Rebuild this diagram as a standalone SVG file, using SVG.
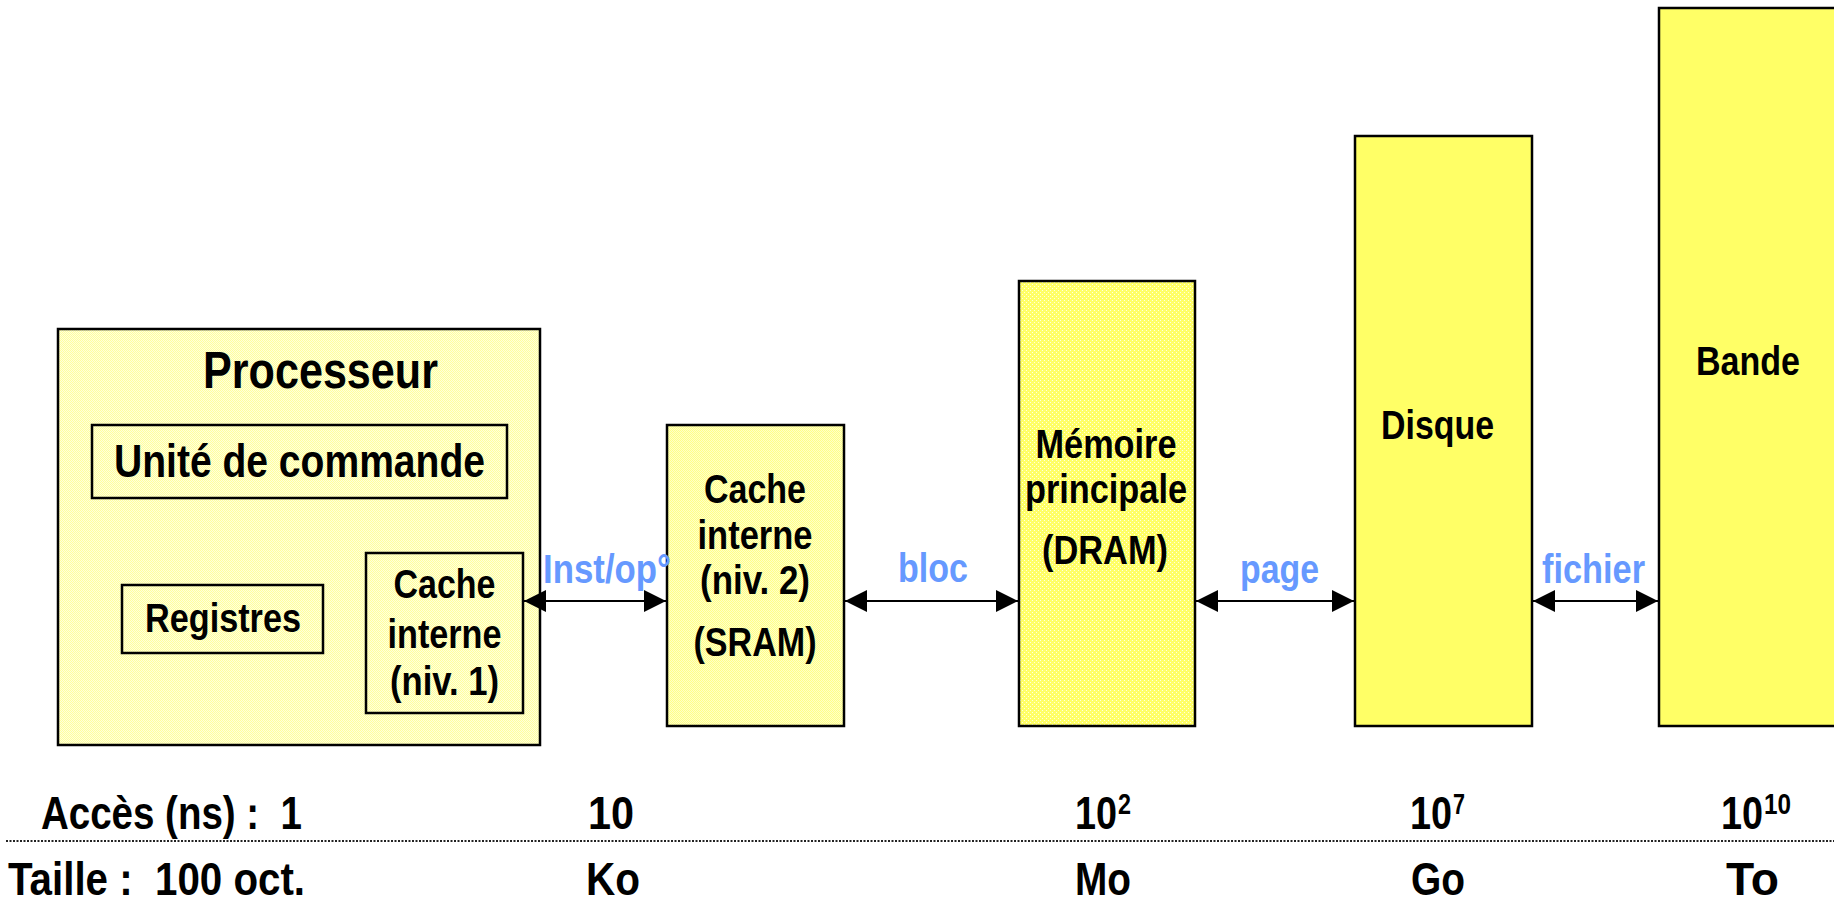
<svg xmlns="http://www.w3.org/2000/svg" width="1834" height="902" viewBox="0 0 1834 902">
<style>
.box{stroke:#000;stroke-width:2.5}
.t{font-family:"Liberation Sans Narrow","Arial Narrow","Liberation Sans",sans-serif;font-weight:bold;fill:#000;text-anchor:middle}
.l{font-family:"Liberation Sans Narrow","Arial Narrow","Liberation Sans",sans-serif;font-weight:bold;fill:#6699FF;text-anchor:middle;font-size:41px}
.s{font-family:"Liberation Sans Narrow","Arial Narrow","Liberation Sans",sans-serif;font-weight:bold;fill:#000;font-size:47px}
.f41{font-size:41px}
.conn{stroke:#000;stroke-width:2;fill:none;marker-start:url(#ah);marker-end:url(#ah)}
</style>
<defs>
<pattern id="pale" width="2" height="2" patternUnits="userSpaceOnUse">
<rect width="2" height="2" fill="#FFFFDC"/>
<rect width="1" height="1" fill="#FFFF9E"/>
<rect x="1" y="1" width="1" height="1" fill="#FFFF9E"/>
</pattern>
<pattern id="mid" width="2" height="2" patternUnits="userSpaceOnUse">
<rect width="2" height="2" fill="#FFFFC8"/>
<rect width="1" height="1" fill="#FFFF88"/>
<rect x="1" y="1" width="1" height="1" fill="#FFFF88"/>
</pattern>
<pattern id="dots" width="4" height="4" patternUnits="userSpaceOnUse">
<rect width="4" height="4" fill="#FFFF66"/>
<rect width="1" height="1" fill="#FFFFE0"/>
<rect x="2" y="2" width="1" height="1" fill="#FFFFE0"/>
</pattern>
<marker id="ah" viewBox="0 0 22 22" refX="22" refY="11" markerWidth="22" markerHeight="22" markerUnits="userSpaceOnUse" orient="auto-start-reverse">
<path d="M0,0 L22,11 L0,22 z" fill="#000"/>
</marker>
</defs>
<rect width="1834" height="902" fill="#fff"/>

<g id="processeur">
<rect class="box" x="58" y="329" width="482" height="416" fill="url(#pale)"/>
<text class="t" x="320.5" y="388" font-size="52" textLength="235" lengthAdjust="spacingAndGlyphs">Processeur</text>
</g>
<g id="unite-commande">
<rect class="box" x="92" y="425" width="415" height="73" fill="none"/>
<text class="t" x="299.5" y="477" font-size="47" textLength="371" lengthAdjust="spacingAndGlyphs">Unité de commande</text>
</g>
<g id="registres">
<rect class="box" x="122" y="585" width="201" height="68" fill="none"/>
<text class="t f41" x="223" y="632" textLength="156" lengthAdjust="spacingAndGlyphs">Registres</text>
</g>
<g id="cache-niv1">
<rect class="box" x="366" y="553" width="157" height="160" fill="none"/>
<text class="t f41" x="444.5" y="598" textLength="102" lengthAdjust="spacingAndGlyphs">Cache</text>
<text class="t f41" x="444.5" y="648" textLength="114" lengthAdjust="spacingAndGlyphs">interne</text>
<text class="t f41" x="444.5" y="695" textLength="109" lengthAdjust="spacingAndGlyphs">(niv. 1)</text>
</g>
<g id="cache-niv2">
<rect class="box" x="667" y="425" width="177" height="301" fill="url(#mid)"/>
<text class="t f41" x="755" y="503" textLength="102" lengthAdjust="spacingAndGlyphs">Cache</text>
<text class="t f41" x="755" y="549" textLength="115" lengthAdjust="spacingAndGlyphs">interne</text>
<text class="t f41" x="755" y="594" textLength="110" lengthAdjust="spacingAndGlyphs">(niv. 2)</text>
<text class="t f41" x="755" y="656" textLength="123" lengthAdjust="spacingAndGlyphs">(SRAM)</text>
</g>
<g id="memoire">
<rect class="box" x="1019" y="281" width="176" height="445" fill="url(#dots)"/>
<text class="t f41" x="1106" y="458" textLength="141" lengthAdjust="spacingAndGlyphs">Mémoire</text>
<text class="t f41" x="1106" y="503" textLength="162" lengthAdjust="spacingAndGlyphs">principale</text>
<text class="t f41" x="1105" y="564" textLength="126" lengthAdjust="spacingAndGlyphs">(DRAM)</text>
</g>
<g id="disque">
<rect class="box" x="1355" y="136" width="177" height="590" fill="#FFFF66"/>
<text class="t f41" x="1437.5" y="439" textLength="113" lengthAdjust="spacingAndGlyphs">Disque</text>
</g>
<g id="bande">
<rect class="box" x="1659" y="8" width="180" height="718" fill="#FFFF66"/>
<text class="t f41" x="1748" y="375" textLength="104" lengthAdjust="spacingAndGlyphs">Bande</text>
</g>

<g id="connecteurs">
<line class="conn" x1="524" y1="601" x2="666" y2="601"/>
<line class="conn" x1="845" y1="601" x2="1018" y2="601"/>
<line class="conn" x1="1196" y1="601" x2="1354" y2="601"/>
<line class="conn" x1="1533" y1="601" x2="1658" y2="601"/>
<text class="l" x="607" y="583" textLength="128" lengthAdjust="spacingAndGlyphs">Inst/op°</text>
<text class="l" x="933" y="582" textLength="70" lengthAdjust="spacingAndGlyphs">bloc</text>
<text class="l" x="1279.5" y="583" textLength="79" lengthAdjust="spacingAndGlyphs">page</text>
<text class="l" x="1593.5" y="583" textLength="103" lengthAdjust="spacingAndGlyphs">fichier</text>
</g>

<g id="echelle">
<line x1="6" y1="841" x2="1834" y2="841" stroke="#222" stroke-width="2" stroke-dasharray="2 1.5"/>
<text class="s" x="41" y="829" xml:space="preserve" textLength="261" lengthAdjust="spacingAndGlyphs">Accès (ns) :  1</text>
<text class="s" x="588" y="829" textLength="46" lengthAdjust="spacingAndGlyphs">10</text>
<text class="s" x="1075" y="829"><tspan textLength="42" lengthAdjust="spacingAndGlyphs">10</tspan><tspan x="1118" dy="-15" font-size="29" textLength="13" lengthAdjust="spacingAndGlyphs">2</tspan></text>
<text class="s" x="1410" y="829"><tspan textLength="42" lengthAdjust="spacingAndGlyphs">10</tspan><tspan x="1453" dy="-15" font-size="29" textLength="12" lengthAdjust="spacingAndGlyphs">7</tspan></text>
<text class="s" x="1721" y="829"><tspan textLength="42" lengthAdjust="spacingAndGlyphs">10</tspan><tspan x="1764" dy="-15" font-size="29" textLength="27" lengthAdjust="spacingAndGlyphs">10</tspan></text>
<text class="s" x="8" y="895" xml:space="preserve" textLength="297" lengthAdjust="spacingAndGlyphs">Taille :  100 oct.</text>
<text class="s" x="586" y="895" textLength="54" lengthAdjust="spacingAndGlyphs">Ko</text>
<text class="s" x="1075" y="895" textLength="56" lengthAdjust="spacingAndGlyphs">Mo</text>
<text class="s" x="1411" y="895" textLength="54" lengthAdjust="spacingAndGlyphs">Go</text>
<text class="s" x="1726" y="895" textLength="53" lengthAdjust="spacingAndGlyphs">To</text>
</g>
</svg>
